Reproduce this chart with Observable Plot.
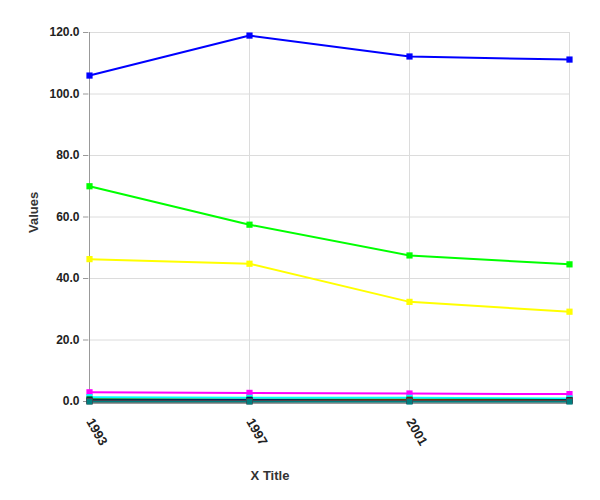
<!DOCTYPE html>
<html>
<head>
<meta charset="utf-8">
<script src="https://cdn.jsdelivr.net/npm/d3@7"></script>
<script src="https://cdn.jsdelivr.net/npm/@observablehq/plot@0.6"></script>
<style>
  body { margin: 0; background: #fff; font-family: "Liberation Sans", Arial, sans-serif; }
  #wrap { position: relative; width: 600px; height: 500px; }
  #xtitle { position: absolute; left: 270px; top: 468px; transform: translateX(-50%); font-weight: bold; font-size: 13px; color: #333; }
</style>
</head>
<body>
<div id="wrap"><div id="xtitle">X Title</div></div>
<script>
const categories = ["1993", "1997", "2001", ""];
const seriesNames = ["S1", "S2", "S3", "S4", "S5", "S6", "S7", "S8", "S9"];
const seriesColors = ["#0000ff", "#00ff00", "#ffff00", "#ff00ff", "#00ffff", "#008000", "#000080", "#c00000", "#008080"];
const s1 = [106, 119, 112.2, 111.2];
const s2 = [70, 57.5, 47.5, 44.6];
const s3 = [46.3, 44.8, 32.4, 29.2];
const s4 = [3.0, 2.8, 2.6, 2.4];
const s5 = [1.4, 1.2, 1.2, 1.0];
const s6 = [0.7, 0.6, 0.6, 0.5];
const s7 = [0.3, 0.4, 0.2, 0.3];
const s8 = [0.1, 0.1, 0.3, 0.2];
const s9 = [0, 0, 0, 0];
const yTicks = [0, 20, 40, 60, 80, 100, 120];

const seriesValues = [s1, s2, s3, s4, s5, s6, s7, s8, s9];
const data = [];
seriesValues.forEach((vals, i) => vals.forEach((v, j) => data.push({series: seriesNames[i], cat: categories[j], value: v})));

const chart = Plot.plot({
  width: 600,
  height: 500,
  marginLeft: 88,
  marginRight: 30,
  marginTop: 32,
  marginBottom: 99,
  style: {fontFamily: "Liberation Sans, Arial, sans-serif", fontSize: "12px", color: "#222", background: "transparent"},
  x: {type: "point", domain: categories, padding: 0},
  y: {domain: [0, 120]},
  color: {domain: seriesNames, range: seriesColors},
  marks: [
    Plot.gridY(yTicks, {stroke: "#dcdcdc", strokeOpacity: 1}),
    Plot.gridX(categories, {stroke: "#dcdcdc", strokeOpacity: 1}),
    Plot.axisY({ticks: yTicks, tickFormat: d => d.toFixed(1), tickSize: 5, tickPadding: 4, label: null, fontWeight: "bold", stroke: "#999"}),
    Plot.axisX({tickSize: 0, tickPadding: 18, tickRotate: 60, label: null, fontWeight: "bold", fontSize: 13}),
    Plot.ruleX([categories[0]], {stroke: "#999", strokeWidth: 1}),
    Plot.ruleY([0], {stroke: "#999", strokeWidth: 2, dy: 1.5}),
    Plot.lineY(data, {x: "cat", y: "value", z: "series", stroke: "series", strokeWidth: 2}),
    Plot.dot(data, {x: "cat", y: "value", fill: "series", symbol: "square", r: 3.5}),
    Plot.text(["Values"], {frameAnchor: "left", dx: -55, dy: 16, rotate: -90, text: d => d, fontWeight: "bold", fontSize: 13, fill: "#333"})
  ]
});
document.getElementById("wrap").appendChild(chart);
</script>
</body>
</html>
